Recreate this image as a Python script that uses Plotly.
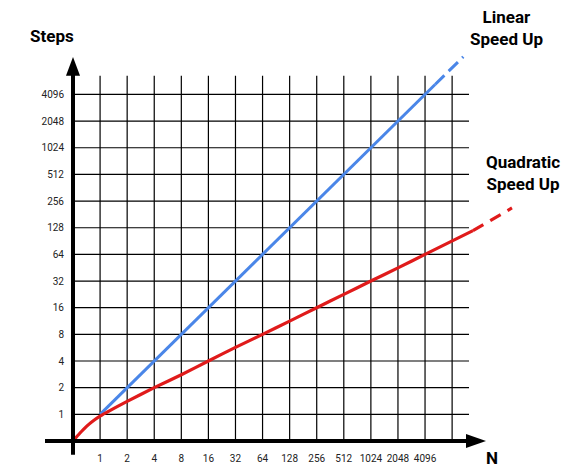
import numpy as np
import plotly.graph_objects as go

# tick values on both axes (powers of two)
ticks = [1, 2, 4, 8, 16, 32, 64, 128, 256, 512, 1024, 2048, 4096]
tick_labels = [str(t) for t in ticks]
extra_col = 8192  # last unlabeled grid column

# linear speed up: steps == N
lin_n = [1, 2, 4, 8, 16, 32, 64, 128, 256, 512, 1024, 2048, 4096, 5300]
lin_steps = [1, 2, 4, 8, 16, 32, 64, 128, 256, 512, 1024, 2048, 4096, 5300]
lin_dash_n = [5300, 10900]
lin_dash_steps = [5300, 10900]

# quadratic speed up: steps ~ sqrt(N), starting from the origin corner
quad_n = [0.5, 0.595, 0.707, 0.841, 1, 2, 4, 8, 16, 32, 64, 128, 256, 512,
          1024, 2048, 4096, 13970]
quad_steps = [0.5, 0.611, 0.732, 0.847, 0.955, 1.4, 2, 2.8, 4, 5.7, 8, 11.3,
              16, 22.6, 32, 45, 64, 118.6]
quad_dash_n = [13970, 37900]
quad_dash_steps = [118.6, 214]

BLUE = "#4a86e8"
RED = "#e01b1b"

# pixel layout
W, H = 569, 476
L, R, T, B = 73, 49, 50, 30
PW, PH = W - L - R, H - T - B
PX_X, PX_Y = 27.08, 27.0  # px per doubling
ORIGIN = 0.5


def px2x(px):
    return (px - L) / PW


def py2y(py):
    return (H - B - py) / PH


x_range = [np.log10(ORIGIN), np.log10(ORIGIN * 2 ** (PW / PX_X))]
y_range = [np.log10(ORIGIN), np.log10(ORIGIN * 2 ** (PH / PX_Y))]

grid_top = ORIGIN * 2 ** ((H - B - 76) / PX_Y)
grid_right = ORIGIN * 2 ** ((469 - L) / PX_X)

fig = go.Figure()

# grid
gx, gy = [], []
for n in ticks + [extra_col]:
    gx += [n, n, None]
    gy += [ORIGIN, grid_top, None]
for s in ticks:
    gx += [ORIGIN, grid_right, None]
    gy += [s, s, None]
fig.add_trace(go.Scatter(x=gx, y=gy, mode="lines",
                         line=dict(color="black", width=1.2),
                         hoverinfo="skip", showlegend=False))

fig.add_trace(go.Scatter(x=lin_n, y=lin_steps, mode="lines",
                         line=dict(color=BLUE, width=3), showlegend=False))
fig.add_trace(go.Scatter(x=lin_dash_n, y=lin_dash_steps, mode="lines",
                         line=dict(color=BLUE, width=3, dash="13px,6px"),
                         showlegend=False))
fig.add_trace(go.Scatter(x=quad_n, y=quad_steps, mode="lines",
                         line=dict(color=RED, width=3.2, shape="spline", smoothing=0.6),
                         showlegend=False))
fig.add_trace(go.Scatter(x=quad_dash_n, y=quad_dash_steps, mode="lines",
                         line=dict(color=RED, width=3.2, dash="12px,8px"),
                         showlegend=False))

# thick axes with arrow heads
shapes = [
    dict(type="line", xref="paper", yref="paper",
         x0=px2x(73), x1=px2x(73), y0=py2y(460), y1=py2y(72),
         line=dict(color="black", width=4)),
    dict(type="line", xref="paper", yref="paper",
         x0=px2x(45), x1=px2x(470), y0=py2y(446), y1=py2y(446),
         line=dict(color="black", width=4)),
    dict(type="path", xref="paper", yref="paper",
         path="M {} {} L {} {} L {} {} Z".format(px2x(66), py2y(76), px2x(80), py2y(76),
                                                  px2x(73), py2y(57)),
         fillcolor="black", line=dict(width=0)),
    dict(type="path", xref="paper", yref="paper",
         path="M {} {} L {} {} L {} {} Z".format(px2x(466), py2y(439), px2x(466), py2y(453),
                                                  px2x(486), py2y(446)),
         fillcolor="black", line=dict(width=0)),
]

annotations = [
    dict(text="<b>Steps</b>", x=px2x(52), y=py2y(36)),
    dict(text="<b>N</b>", x=px2x(492), y=py2y(463)),
    dict(text="<b>Linear<br>Speed Up</b>", x=px2x(506), y=py2y(28)),
    dict(text="<b>Quadratic<br>Speed Up</b>", x=px2x(523), y=py2y(175)),
]
for a in annotations:
    a.update(xref="paper", yref="paper", showarrow=False,
             xanchor="center", yanchor="middle",
             font=dict(family="Roboto", size=17, color="black"))

fig.update_layout(
    width=W, height=H,
    margin=dict(l=L, r=R, t=T, b=B),
    paper_bgcolor="white", plot_bgcolor="white",
    shapes=shapes, annotations=annotations,
    font=dict(family="Roboto", size=10, color="#222"),
    xaxis=dict(type="log", range=x_range, tickvals=ticks, ticktext=tick_labels,
               showgrid=False, zeroline=False, showline=False, ticks="",
               ticklabelstandoff=10, tickangle=0),
    yaxis=dict(type="log", range=y_range, tickvals=ticks, ticktext=tick_labels,
               showgrid=False, zeroline=False, showline=False, ticks="",
               ticklabelstandoff=8),
)

# drop the default page margin so the figure sits at the window corner
fig.write_html("out.html", config={"displayModeBar": False},
               post_script="document.body.style.margin='0';document.body.style.overflow='hidden';")
